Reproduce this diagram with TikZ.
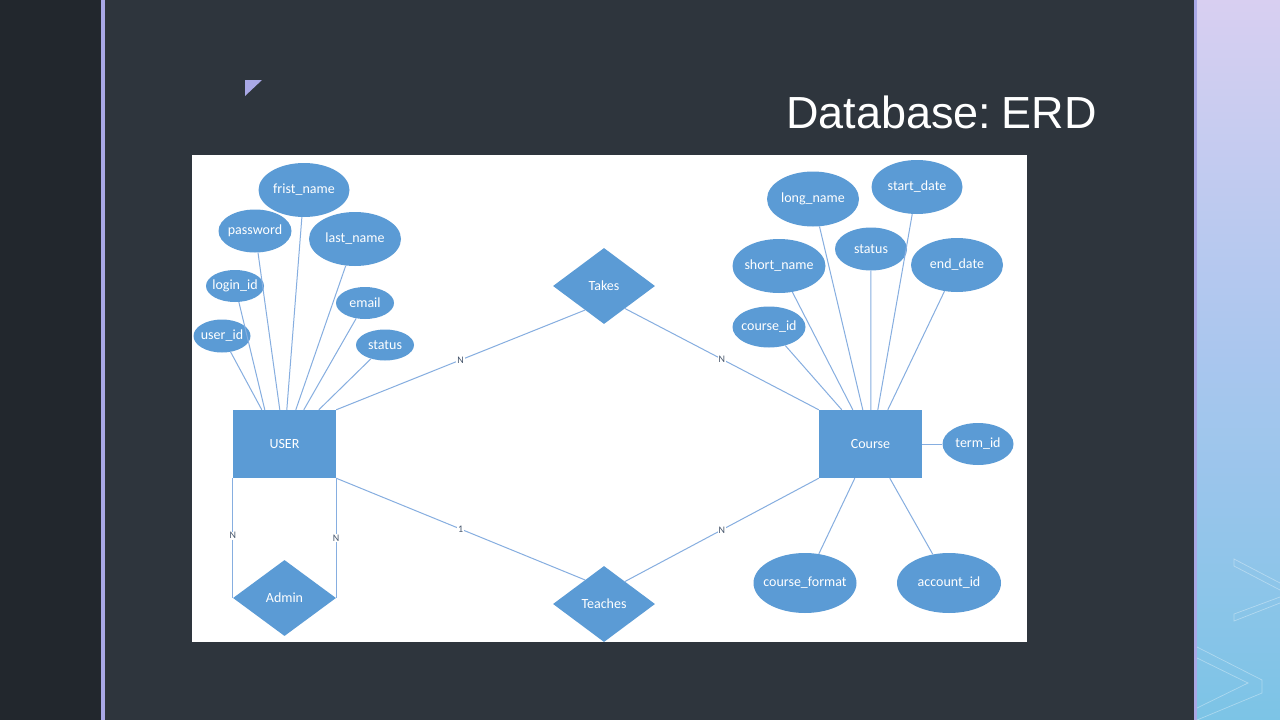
\documentclass[tikz,border=0pt]{standalone}
\usepackage{fontspec}
\setmainfont{Carlito}
\newfontfamily\titlefont{Liberation Sans}
\usetikzlibrary{shapes.geometric,calc}
\newcommand\zw[1]{\makebox[0pt][c]{#1}}
\definecolor{leftbg}{HTML}{22272D}
\definecolor{mainbg}{HTML}{2E353D}
\definecolor{lav}{HTML}{A9A8E6}
\definecolor{erfill}{HTML}{5B9BD5}
\definecolor{erline}{HTML}{86AEE0}
\definecolor{lbl}{HTML}{44546A}
\definecolor{paneltop}{HTML}{D8CFF1}
\definecolor{panelmid}{HTML}{A9C6EE}
\definecolor{panelbot}{HTML}{7CC4E6}
\begin{document}
\begin{tikzpicture}[x=1pt,y=-1pt,
  attr/.style={ellipse,fill=erfill,text=white,inner sep=0pt,font=\fontsize{14}{16}\selectfont},
  ent/.style={rectangle,fill=erfill,text=white,inner sep=0pt,minimum width=103pt,minimum height=68pt,font=\fontsize{14}{16}\selectfont},
  rel/.style={diamond,fill=erfill,text=white,inner sep=0pt,minimum width=102pt,minimum height=76pt,font=\fontsize{14}{16}\selectfont},
  conn/.style={draw=erline,line width=1pt},
  card/.style={fill=white,text=lbl,inner sep=1pt,font=\fontsize{10}{11}\selectfont}]
\useasboundingbox (0,0) rectangle (1280,720);
% background
\fill[leftbg] (0,0) rectangle (101,720);
\fill[mainbg] (105,0) rectangle (1194,720);
\fill[lav] (101,0) rectangle (105,720);
\shade[top color=paneltop,bottom color=panelbot,middle color=panelmid] (1197,0) rectangle (1280,720);
\fill[lav] (1194,0) rectangle (1197,720);
\draw[white,opacity=0.35,line width=0.7pt] (1280,583)--(1234,559)--(1234,566)--(1280,590);
\draw[white,opacity=0.35,line width=0.7pt] (1280,597)--(1234,614)--(1234,621)--(1280,603);
\draw[white,opacity=0.35,line width=0.7pt] (1197,647)--(1262,680)--(1262,693)--(1197,720);
\draw[white,opacity=0.35,line width=0.7pt] (1197,658)--(1248,683)--(1197,708);
% triangle
\fill[lav] (245,80)--(262,80)--(245,96)--cycle;
% title
\node[anchor=base east,text=white,inner sep=0pt,font=\titlefont\fontsize{45}{50}\selectfont] (title) at (1097,128) {Database:\kern-2pt\ ERD};
% white canvas
\fill[white] (192,155) rectangle (1027,642);
% entities and relationships
\node[ent] (user) at (284.5,444) {USER};
\node[ent] (course) at (870.5,444) {Course};
\node[rel] (takes) at (604,286) {Takes};
\node[rel] (teaches) at (604,604) {Teaches};
\node[rel,minimum width=103pt] (admin) at (284.5,598) {Admin};
% user attributes
\node[attr,minimum width=91pt,minimum height=54pt] (fname) at (304,190) {\zw{frist\_name}};
\node[attr,minimum width=73pt,minimum height=43pt] (pwd) at (255,231) {\zw{password}};
\node[attr,minimum width=92pt,minimum height=54pt] (lname) at (355,239) {\zw{last\_name}};
\node[attr,minimum width=58pt,minimum height=32pt] (login) at (235,286) {\zw{login\_id}};
\node[attr,minimum width=57pt,minimum height=33pt] (uid) at (222,336) {\zw{user\_id}};
\node[attr,minimum width=58pt,minimum height=32pt] (email) at (365,303) {\zw{email}};
\node[attr,minimum width=58pt,minimum height=31pt] (ustatus) at (385,345) {\zw{status}};
% course attributes
\node[attr,minimum width=92pt,minimum height=55pt] (lgname) at (813,199) {\zw{long\_name}};
\node[attr,minimum width=91pt,minimum height=54pt] (sdate) at (917,187) {\zw{start\_date}};
\node[attr,minimum width=72pt,minimum height=43pt] (cstatus) at (871,249) {\zw{status}};
\node[attr,minimum width=93pt,minimum height=54pt] (sname) at (779,266) {\zw{short\_name}};
\node[attr,minimum width=92pt,minimum height=54pt] (edate) at (957,265) {\zw{end\_date}};
\node[attr,minimum width=73pt,minimum height=41pt] (cid) at (769,327) {\zw{course\_id}};
\node[attr,minimum width=71pt,minimum height=42pt] (term) at (978,444) {\zw{term\_id}};
\node[attr,minimum width=103pt,minimum height=60pt] (cformat) at (805,583) {\zw{course\_format}};
\node[attr,minimum width=104pt,minimum height=60pt] (acct) at (949,583) {\zw{account\_id}};
% user attribute connectors
\draw[conn] (uid) -- ($(user.north west)+(29,0)$);
\draw[conn] (login) -- ($(user.north west)+(32,0)$);
\draw[conn] (pwd) -- ($(user.north west)+(47,0)$);
\draw[conn] (fname) -- ($(user.north west)+(54,0)$);
\draw[conn] (lname) -- ($(user.north west)+(63,0)$);
\draw[conn] (email) -- ($(user.north west)+(71,0)$);
\draw[conn] (ustatus) -- ($(user.north west)+(86,0)$);
% course attribute connectors
\draw[conn] (cid) -- ($(course.north west)+(23,0)$);
\draw[conn] (sname) -- ($(course.north west)+(34,0)$);
\draw[conn] (lgname) -- ($(course.north west)+(44,0)$);
\draw[conn] (cstatus) -- ($(course.north west)+(52,0)$);
\draw[conn] (sdate) -- ($(course.north west)+(59,0)$);
\draw[conn] (edate) -- ($(course.north west)+(69,0)$);
\draw[conn] (course.east) -- (term);
\draw[conn] ($(course.south west)+(36,0)$) -- (cformat);
\draw[conn] ($(course.south west)+(71,0)$) -- (acct);
% relationship connectors
\draw[conn] (user.north east) -- node[card]{N} ($(takes.west)!0.63!(takes.south)$);
\draw[conn] ($(takes.east)!0.59!(takes.south)$) -- node[card]{N} (course.north west);
\draw[conn] (user.south east) -- node[card]{1} ($(teaches.west)!0.63!(teaches.north)$);
\draw[conn] ($(teaches.east)!0.59!(teaches.north)$) -- node[card]{N} (course.south west);
\draw[conn] (user.south west) -- node[card,pos=0.48]{N} (admin.west);
\draw[conn] (user.south east) -- node[card,pos=0.5]{N} (admin.east);
\end{tikzpicture}
\end{document}
